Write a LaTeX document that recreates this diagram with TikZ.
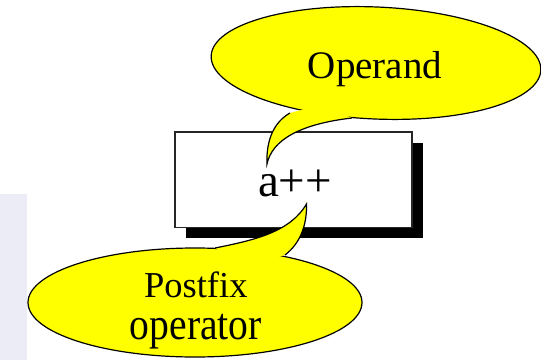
\documentclass[tikz,border=0pt]{standalone}
\usepackage{fontspec}
\usepackage{graphicx}
\setmainfont{Liberation Serif}
\usetikzlibrary{shapes.geometric}
\definecolor{callout}{HTML}{FFFF00}
\definecolor{panel}{HTML}{ECECF6}
\begin{document}
\begin{tikzpicture}[x=1pt,y=1pt,
  bubble/.style={ellipse, draw=black, fill=callout, line width=1.2pt, inner sep=0pt},
  tailline/.style={draw=black, line width=1.2pt, line join=miter},
  txt/.style={anchor=base, inner sep=0pt},
  exprbox/.style={draw=black!85, fill=white, line width=1.5pt, minimum width=237pt, minimum height=95.5pt, inner sep=0pt},
  shadowbox/.style={fill=black, minimum width=237pt, minimum height=95.5pt, inner sep=0pt},
]
\useasboundingbox (0,0) rectangle (541,360);
% side panel
\fill[panel] (0,0) rectangle (26.7,166.5);

% expression box with its drop shadow
\coordinate (boxc) at (293.5,180.25);
\node[shadowbox] (shadow) at ([shift={(11,-10.5)}]boxc) {};
\node[exprbox] (expr) at (boxc) {};
\node[txt, font=\fontsize{47}{47}\selectfont] (code) at (295,164) {a++};

% callout: operand
\node[bubble, minimum width=330pt, minimum height=112pt, rotate=-2.5] (opnd) at (376,297) {};
\coordinate (n1) at (290,247);
\coordinate (t1) at (267,196);
\coordinate (j1) at (352,242);
\coordinate (p1) at (320,255);
\fill[callout] (n1) .. controls (274,238) and (266,220) .. (t1)
  .. controls (272,220) and (300,236) .. (j1) -- (p1) -- cycle;
\draw[tailline] (n1) .. controls (274,238) and (266,220) .. (t1)
  .. controls (272,220) and (300,236) .. (j1);
\node[txt, font=\fontsize{39}{39}\selectfont] (optext) at (375,281.3) {Operand};

% callout: postfix operator
\node[bubble, minimum width=334pt, minimum height=109pt] (pfx) at (195,57.5) {};
\coordinate (j2) at (215,112);
\coordinate (t2) at (306.5,156);
\coordinate (n2) at (285,105);
\coordinate (p2) at (250,95);
\fill[callout] (j2) .. controls (255,120) and (290,128) .. (t2)
  .. controls (307,138) and (302,118) .. (n2) -- (p2) -- cycle;
\draw[tailline] (j2) .. controls (255,120) and (290,128) .. (t2)
  .. controls (307,138) and (302,118) .. (n2);
\node[txt, font=\fontsize{36.5}{36.5}\selectfont] (pfxtext1) at (195.8,62.3) {Postfix};
\node[txt, font=\fontsize{45}{45}\selectfont] (pfxtext2) at (195.8,21) {\scalebox{0.88}[1]{operator}};
\end{tikzpicture}
\end{document}
